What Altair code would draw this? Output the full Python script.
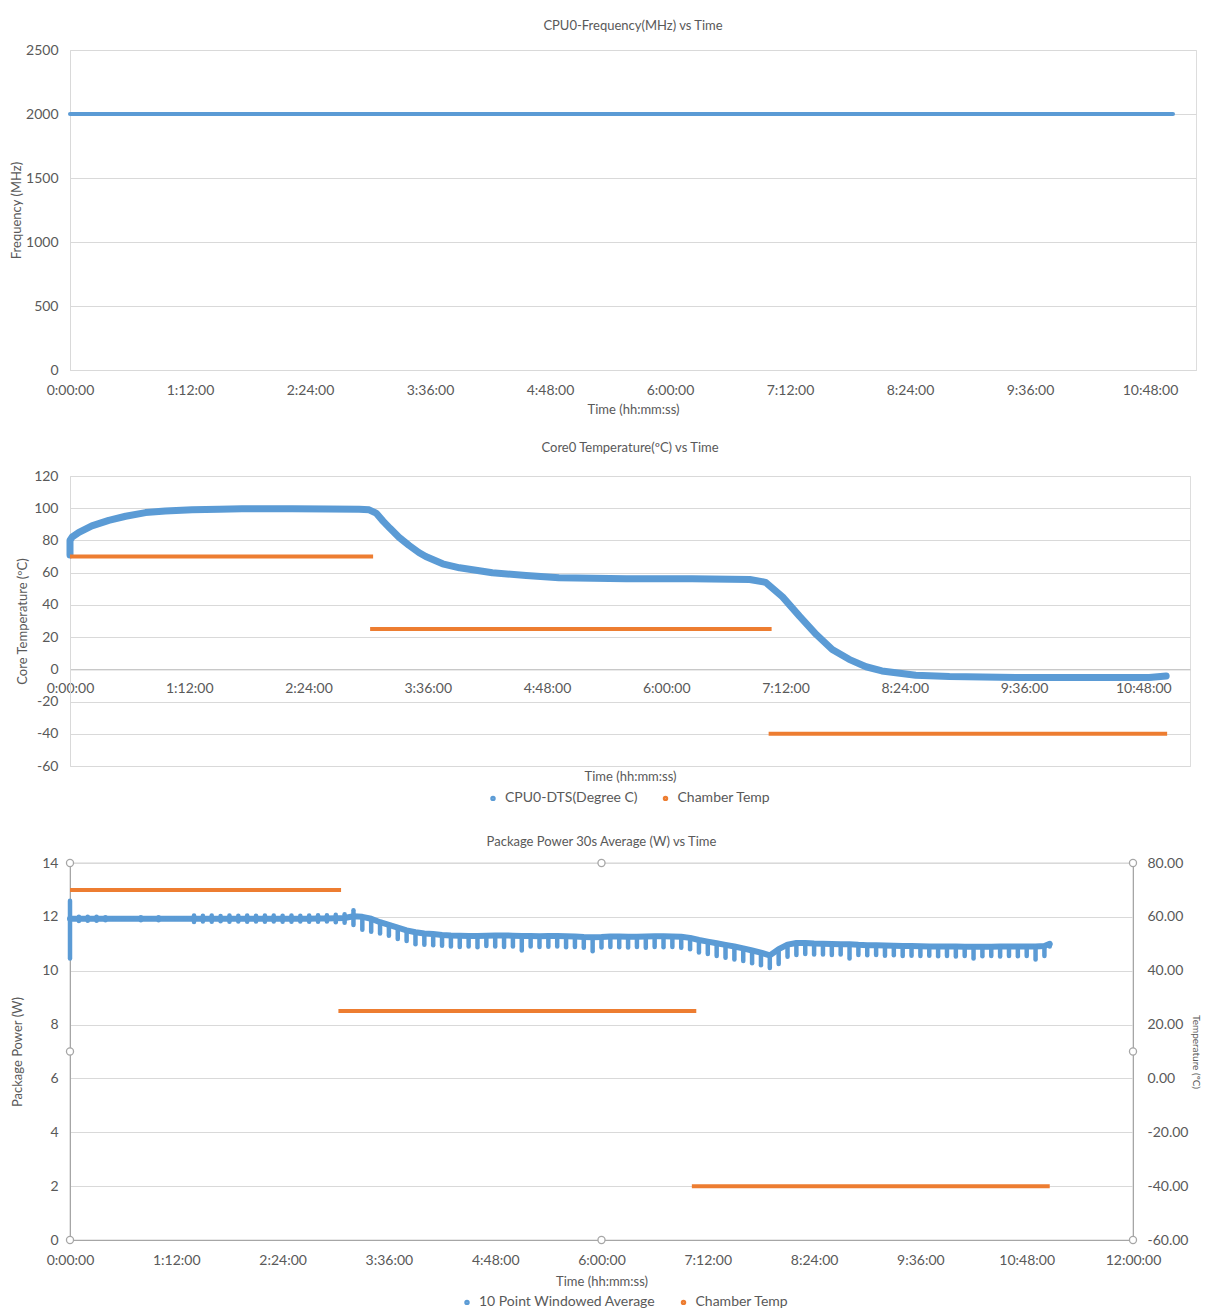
import altair as alt
import pandas as pd

FONT = "Lato"
BLUE = "#5B9BD5"
ORANGE = "#ED7D31"
TXT = "#595959"
GRID = "#D9D9D9"
FRAME = "#A6A6A6"

# ---------------- tick labels ----------------
x_ticks = [0, 1.2, 2.4, 3.6, 4.8, 6.0, 7.2, 8.4, 9.6, 10.8, 12.0]
x_tick_labels = ["0:00:00", "1:12:00", "2:24:00", "3:36:00", "4:48:00", "6:00:00",
                 "7:12:00", "8:24:00", "9:36:00", "10:48:00", "12:00:00"]
freq_ticks = [0, 500, 1000, 1500, 2000, 2500]
temp_ticks = [-60, -40, -20, 0, 20, 40, 60, 80, 100, 120]
power_ticks = [0, 2, 4, 6, 8, 10, 12, 14]
rtemp_ticks = [-60, -40, -20, 0, 20, 40, 60, 80]

# ---------------- panel 1: frequency ----------------
freq_t = [0.0, 11.03]
freq_mhz = [2000, 2000]

# ---------------- panel 2: core temperature ----------------
cpu_t = [0.0, 0.0, 0.0, 0.02, 0.09, 0.22, 0.39, 0.56, 0.76, 0.96, 1.23, 1.5, 1.73, 2.0,
         2.24, 2.6, 2.91, 3.01, 3.08, 3.15, 3.22, 3.31, 3.41, 3.51, 3.58, 3.75, 3.92, 4.25,
         4.59, 4.92, 5.6, 6.26, 6.84, 7.0, 7.17, 7.34, 7.51, 7.67, 7.84, 8.01, 8.17, 8.51,
         8.85, 9.52, 10.19, 10.86, 11.03]
cpu_c = [71, 76, 80, 82, 85, 89, 92.5, 95, 97.3, 98.3, 99, 99.3, 99.6, 99.6,
         99.6, 99.5, 99.4, 99, 97, 92, 87.5, 82, 77, 72.5, 70, 65.5, 63, 59.9,
         58.2, 56.8, 56.2, 56.2, 55.8, 54, 45, 33, 21.6, 12.3, 6.2, 1.6, -1, -3.7,
         -4.5, -5.1, -5.1, -5.1, -4.1]

ch2_start = [0.0, 3.02, 7.03]
ch2_end = [3.05, 7.06, 11.04]
chamber_temp = [70, 25, -40]

# ---------------- panel 3: package power ----------------
power_t = [0.0, 0.1, 0.2, 0.3, 0.4, 0.5, 0.6, 0.7, 0.8, 0.9, 1.0, 1.1, 1.2, 1.3, 1.4, 1.5,
           1.6, 1.7, 1.8, 1.9, 2.0, 2.1, 2.2, 2.3, 2.4, 2.5, 2.6, 2.7, 2.8, 2.9, 3.0, 3.1,
           3.2, 3.3, 3.4, 3.5, 3.6, 3.7, 3.8, 3.9, 4.0, 4.1, 4.2, 4.3, 4.4, 4.5, 4.6, 4.7,
           4.8, 4.9, 5.0, 5.1, 5.2, 5.3, 5.4, 5.5, 5.6, 5.7, 5.8, 5.9, 6.0, 6.1, 6.2, 6.3,
           6.4, 6.5, 6.6, 6.7, 6.8, 6.9, 7.0, 7.1, 7.2, 7.3, 7.4, 7.5, 7.6, 7.7, 7.8, 7.9,
           8.0, 8.1, 8.2, 8.3, 8.4, 8.5, 8.6, 8.7, 8.8, 8.9, 9.0, 9.1, 9.2, 9.3, 9.4, 9.5,
           9.6, 9.7, 9.8, 9.9, 10.0, 10.1, 10.2, 10.3, 10.4, 10.5, 10.6, 10.7, 10.8, 10.9,
           11.0, 11.06]
power_w = [11.93, 11.93, 11.93, 11.93, 11.93, 11.93, 11.93, 11.93, 11.93, 11.93, 11.93, 11.93,
           11.93, 11.93, 11.93, 11.93, 11.93, 11.93, 11.93, 11.93, 11.93, 11.93, 11.93, 11.93,
           11.93, 11.93, 11.93, 11.93, 11.94, 11.94, 11.95, 11.96, 12.02, 12.00, 11.93, 11.80,
           11.70, 11.60, 11.50, 11.43, 11.38, 11.36, 11.33, 11.31, 11.30, 11.29, 11.29, 11.30,
           11.31, 11.31, 11.30, 11.29, 11.29, 11.28, 11.29, 11.29, 11.28, 11.27, 11.25, 11.24,
           11.25, 11.27, 11.27, 11.26, 11.26, 11.27, 11.28, 11.28, 11.27, 11.26, 11.22, 11.14,
           11.08, 11.02, 10.96, 10.90, 10.83, 10.75, 10.67, 10.57, 10.80, 10.97, 11.03, 11.03,
           11.01, 11.00, 10.99, 10.98, 10.98, 10.96, 10.95, 10.95, 10.94, 10.93, 10.92, 10.92,
           10.91, 10.90, 10.90, 10.90, 10.90, 10.89, 10.89, 10.89, 10.89, 10.90, 10.90, 10.90,
           10.90, 10.90, 10.92, 11.00]
power_lo = [10.45, 11.85, 11.86, 11.86, 11.87, 11.93, 11.93, 11.93, 11.87, 11.93, 11.87, 11.93,
            11.93, 11.93, 11.81, 11.83, 11.82, 11.84, 11.82, 11.83, 11.82, 11.83, 11.82, 11.83,
            11.82, 11.82, 11.83, 11.82, 11.82, 11.83, 11.80, 11.78, 11.70, 11.52, 11.45, 11.38,
            11.30, 11.18, 11.10, 10.98, 10.96, 10.95, 10.93, 10.90, 10.88, 10.90, 10.87, 10.92,
            10.90, 10.88, 10.90, 10.75, 10.90, 10.88, 10.89, 10.90, 10.87, 10.88, 10.85, 10.72,
            10.86, 10.88, 10.87, 10.86, 10.88, 10.85, 10.88, 10.87, 10.88, 10.85, 10.80, 10.68,
            10.62, 10.55, 10.48, 10.42, 10.36, 10.28, 10.20, 10.10, 10.25, 10.52, 10.58, 10.62,
            10.60, 10.60, 10.58, 10.60, 10.45, 10.58, 10.57, 10.58, 10.56, 10.57, 10.55, 10.56,
            10.55, 10.56, 10.54, 10.55, 10.53, 10.55, 10.45, 10.54, 10.55, 10.53, 10.55, 10.54,
            10.55, 10.42, 10.55, 10.90]
power_hi = [12.60, 12.00, 12.00, 12.00, 11.99, 11.93, 11.93, 11.93, 11.99, 11.93, 11.99, 11.93,
            11.93, 11.93, 12.05, 12.04, 12.05, 12.03, 12.05, 12.04, 12.05, 12.04, 12.05, 12.05,
            12.04, 12.05, 12.04, 12.05, 12.06, 12.06, 12.08, 12.10, 12.25, 12.00, 11.93, 11.80,
            11.70, 11.60, 11.50, 11.43, 11.38, 11.36, 11.33, 11.31, 11.30, 11.29, 11.29, 11.30,
            11.31, 11.31, 11.30, 11.29, 11.29, 11.28, 11.29, 11.29, 11.28, 11.27, 11.25, 11.24,
            11.25, 11.27, 11.27, 11.26, 11.26, 11.27, 11.28, 11.28, 11.27, 11.26, 11.22, 11.14,
            11.08, 11.02, 10.96, 10.90, 10.83, 10.75, 10.67, 10.57, 10.80, 10.97, 11.03, 11.03,
            11.01, 11.00, 10.99, 10.98, 10.98, 10.96, 10.95, 10.95, 10.94, 10.93, 10.92, 10.92,
            10.91, 10.90, 10.90, 10.90, 10.90, 10.89, 10.89, 10.89, 10.89, 10.90, 10.90, 10.90,
            10.90, 10.90, 10.92, 11.00]

ch3_start = [0.0, 3.03, 7.02]
ch3_end = [3.06, 7.07, 11.06]

# selection handles of the plot area (Excel), in data units
handle_t = [0, 6, 12, 0, 12, 0, 6, 12]
handle_w = [14, 14, 14, 7, 7, 0, 0, 0]

# ---------------- helpers ----------------
LABEL_EXPR = ("[" + ",".join(f"'{s}'" for s in x_tick_labels) + "][indexof(["
              + ",".join(str(v) for v in x_ticks) + "], datum.value)]")
INT_EXPR = "(datum.value < 0 ? '-' : '') + format(abs(datum.value), 'd')"
DEC_EXPR = "(datum.value < 0 ? '-' : '') + format(abs(datum.value), '.2f')"


def time_axis(max_h, domain_color, label_pad, **kw):
    vals = [v for v in x_ticks if v <= max_h + 1e-9]
    return alt.Axis(values=vals, labelExpr=LABEL_EXPR, title="Time (hh:mm:ss)", grid=False,
                    ticks=False, labelFontSize=14, labelColor=TXT, labelFont=FONT,
                    titleFontSize=13, titleColor=TXT, titleFont=FONT, titleFontWeight="normal",
                    labelPadding=label_pad, domainColor=domain_color, labelFlush=False,
                    labelOverlap=False, **kw)


def val_axis(vals, title, domain_color, **kw):
    return alt.Axis(values=vals, title=title, grid=True, gridColor=GRID, ticks=False,
                    domainColor=domain_color, labelFontSize=14, labelColor=TXT, labelFont=FONT,
                    titleFontSize=13, titleColor=TXT, titleFont=FONT, titleFontWeight="normal",
                    labelPadding=12, labelFlush=False, labelOverlap=False, labelExpr=INT_EXPR,
                    **kw)


def ttl(text, offset):
    return alt.TitleParams(text, fontSize=13, color=TXT, font=FONT, fontWeight="normal",
                           anchor="middle", offset=offset)


def legend(x, y):
    return alt.Legend(title=None, orient="none", legendX=x, legendY=y, direction="horizontal",
                      symbolType="circle", symbolSize=6, symbolStrokeWidth=3,
                      labelFontSize=14, labelColor=TXT, labelFont=FONT, columnPadding=19.5,
                      labelOffset=5, padding=0, labelLimit=400)


# ---------------- panel 1 ----------------
df_freq = pd.DataFrame({"t": freq_t, "f": freq_mhz})
X1 = alt.X("t:Q", scale=alt.Scale(domain=[0, 11.26], nice=False, zero=False),
           axis=time_axis(11.26, GRID, 13, titlePadding=6))
p1 = alt.Chart(df_freq).mark_line(color=BLUE, strokeWidth=4, strokeCap="round").encode(
    x=X1,
    y=alt.Y("f:Q", scale=alt.Scale(domain=[0, 2500], nice=False),
            axis=val_axis(freq_ticks, "Frequency (MHz)", GRID, titlePadding=2)),
).properties(width=1126, height=320, title=ttl("CPU0-Frequency(MHz) vs Time", 10))

# ---------------- panel 2 ----------------
S2 = ["CPU0-DTS(Degree C)", "Chamber Temp"]
df_cpu = pd.DataFrame({"t": cpu_t, "c": cpu_c, "i": list(range(len(cpu_t))), "s2": S2[0]})
df_ch2 = pd.DataFrame({"t": ch2_start, "t1": ch2_end, "c": chamber_temp, "s2": S2[1]})
C2 = alt.Color("s2:N", scale=alt.Scale(domain=S2, range=[BLUE, ORANGE]), legend=legend(416, 315))
X2 = alt.X("t:Q", scale=alt.Scale(domain=[0, 11.27], nice=False, zero=False),
           axis=time_axis(11.27, "#BFBFBF", 12, offset=-96.67, titleY=107, titleBaseline="middle"))
Y2 = alt.Y("c:Q", scale=alt.Scale(domain=[-60, 120], nice=False),
           axis=val_axis(temp_ticks, "Core Temperature (ºC)", GRID, titlePadding=4.3))
cpu_line = alt.Chart(df_cpu).mark_line(strokeWidth=7, strokeCap="round", strokeJoin="round").encode(
    x=X2, y=Y2, order="i:Q", color=C2)
ch2_rule = alt.Chart(df_ch2).mark_rule(strokeWidth=4).encode(x=X2, x2="t1:Q", y=Y2, color=C2)
p2 = alt.layer(cpu_line, ch2_rule).properties(
    width=1120, height=290, title=ttl("Core0 Temperature(ºC) vs Time", 14.5))

# ---------------- panel 3 ----------------
S3 = ["10 Point Windowed Average", "Chamber Temp"]
df_pw = pd.DataFrame({"t": power_t, "w": power_w, "lo": power_lo, "hi": power_hi, "s3": S3[0]})
df_ch3 = pd.DataFrame({"t": ch3_start, "t1": ch3_end, "c": chamber_temp, "s3": S3[1]})
df_h = pd.DataFrame({"t": handle_t, "w": handle_w})
C3 = alt.Color("s3:N", scale=alt.Scale(domain=S3, range=[BLUE, ORANGE]), legend=legend(390, 432))
X3 = alt.X("t:Q", scale=alt.Scale(domain=[0, 12], nice=False, zero=False),
           axis=time_axis(12, FRAME, 13, titlePadding=8))
YP_AX = val_axis(power_ticks, "Package Power (W)", FRAME, titlePadding=17.3)
YP = alt.Y("w:Q", scale=alt.Scale(domain=[0, 14], nice=False), axis=YP_AX)
pw_line = alt.Chart(df_pw).mark_line(strokeWidth=6, strokeCap="round", strokeJoin="round").encode(
    x=X3, y=YP, color=C3)
pw_rule = alt.Chart(df_pw).mark_rule(strokeWidth=4.5, strokeCap="round").encode(
    x=X3, y=alt.Y("lo:Q", scale=alt.Scale(domain=[0, 14], nice=False), axis=YP_AX),
    y2="hi:Q", color=C3)
handles = alt.Chart(df_h).mark_point(filled=True, fill="white", stroke=FRAME, strokeWidth=1.3,
                                     size=50, opacity=1).encode(x=X3, y=YP)
left = alt.layer(pw_line, pw_rule, handles)
right = alt.Chart(df_ch3).mark_rule(strokeWidth=4).encode(
    x=X3, x2="t1:Q",
    y=alt.Y("c:Q", scale=alt.Scale(domain=[-60, 80], nice=False),
            axis=alt.Axis(values=rtemp_ticks, orient="right", labelExpr=DEC_EXPR, grid=False,
                          ticks=False, domainColor=FRAME, labelFontSize=14, labelColor=TXT,
                          labelFont=FONT, labelPadding=14, title="Temperature (ºC)",
                          titleFontSize=10, titleColor=TXT, titleFont=FONT,
                          titleFontWeight="normal", titlePadding=3, labelFlush=False)),
    color=C3)
p3 = alt.layer(left, right).resolve_scale(y="independent").properties(
    width=1063, height=377, title=ttl("Package Power 30s Average (W) vs Time", 7),
    view=alt.ViewBackground(stroke=FRAME, strokeWidth=1.2))

top = alt.vconcat(p1, p2, spacing=24).resolve_scale(color="independent").resolve_legend(color="independent")
chart = alt.vconcat(top, p3, spacing=28).resolve_scale(color="independent").resolve_legend(
    color="independent").properties(
    padding={"left": 2, "top": 11, "right": 0, "bottom": 5}
).configure_view(strokeWidth=0).configure(font=FONT)

chart.save("out.html", embed_options={"renderer": "svg", "actions": False})
